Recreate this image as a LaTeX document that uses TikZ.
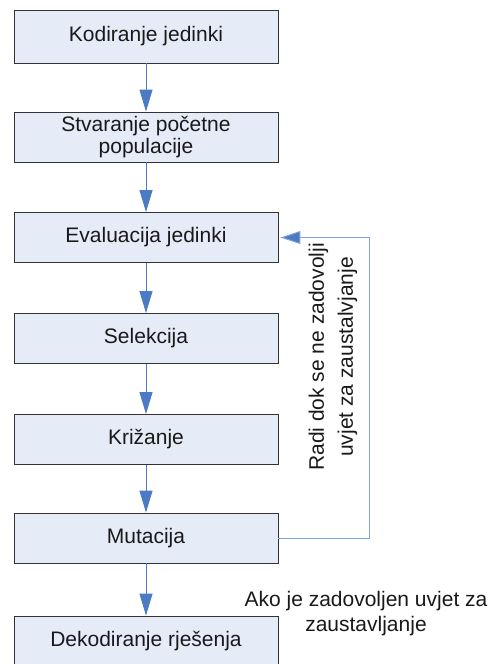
\documentclass[tikz,border=0pt]{standalone}
\usepackage{fontspec}
\setmainfont{Liberation Sans}
\usetikzlibrary{arrows.meta}
\definecolor{boxfill}{HTML}{E6ECF7}
\definecolor{boxline}{HTML}{333333}
\definecolor{arrblue}{HTML}{4A7BC4}
\definecolor{loopblue}{HTML}{7FA4DE}
\begin{document}
\begin{tikzpicture}[x=1pt,y=-1pt,
  stepbox/.style={draw=boxline,fill=boxfill,line width=0.9pt,minimum width=264pt,minimum height=50pt,inner sep=0pt,align=center,font=\fontsize{21}{22}\selectfont,text=black!90},
  flow/.style={draw=arrblue,line width=1pt,-{Triangle[width=13pt,length=22pt]}},
  loopflow/.style={draw=loopblue,line width=1pt,-{Triangle[width=13pt,length=20pt,fill=arrblue]},shorten >=2pt},
  lbl/.style={align=center,font=\fontsize{21}{25}\selectfont,text=black!90}]
\useasboundingbox (0,0) rectangle (491,664);
\node[stepbox,minimum height=53pt] (b1) at (146,36.5) {Kodiranje jedinki};
\node[stepbox] (b2) at (146,137) {Stvaranje početne\\populacije};
\node[stepbox] (b3) at (146,237.5) {Evaluacija jedinki};
\node[stepbox] (b4) at (146,338.5) {Selekcija};
\node[stepbox] (b5) at (146,439.5) {Križanje};
\node[stepbox] (b6) at (146,538) {Mutacija};
\node[stepbox] (b7) at (146,641) {Dekodiranje rješenja};
\draw[flow] (b1) -- (b2);
\draw[flow] (b2) -- (b3);
\draw[flow] (b3) -- (b4);
\draw[flow] (b4) -- (b5);
\draw[flow] (b5) -- (b6);
\draw[flow] (b6) -- (b7);
\coordinate (c1) at (369,538);
\coordinate (c2) at (369,237.5);
\draw[loopflow] (b6.east) -- (c1) -- (c2) -- (b3.east);
\node[lbl,rotate=90,font=\fontsize{21}{29}\selectfont] (t1) at (333,357) {Radi dok se ne zadovolji\\uvjet za zaustalvjanje};
\node[lbl] (t2) at (366,614) {Ako je zadovoljen uvjet za\\zaustavljanje};
\end{tikzpicture}
\end{document}
